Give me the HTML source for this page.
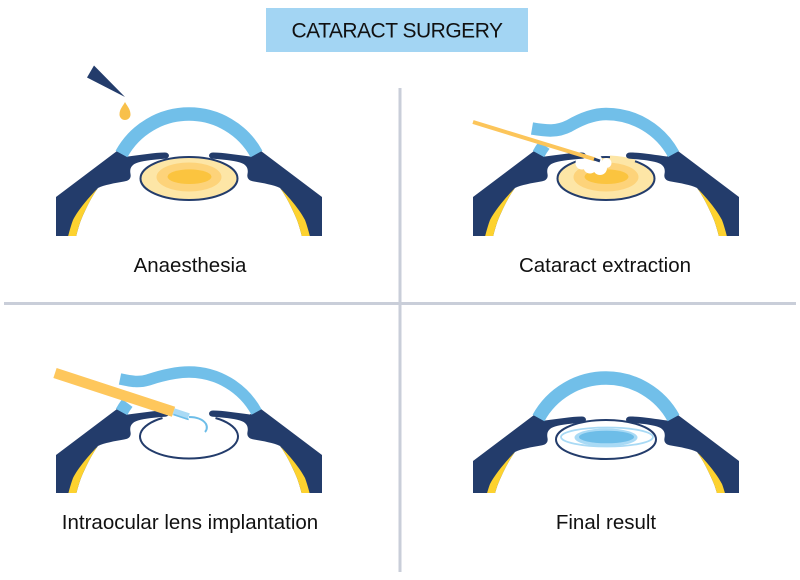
<!DOCTYPE html>
<html>
<head>
<meta charset="utf-8">
<style>
  html, body { margin: 0; padding: 0; background: #ffffff; }
  body { width: 800px; height: 580px; overflow: hidden; }
  svg { display: block; }
  text { font-family: "Liberation Sans", Arial, sans-serif; fill: #111; }
</style>
</head>
<body>
<svg width="800" height="580" viewBox="0 0 800 580" xmlns="http://www.w3.org/2000/svg">
  <defs>
    <g id="half">
      <path fill="#233c6b" d="M 56 250 L 56 197 L 119 149.5 L 128 156.5 C 140 155, 155 152.5, 165 152.5 C 170 152.5, 170.5 158.5, 165 158.8 C 155 159.5, 145 160.5, 138 162.5 C 131 164.5, 129.5 169, 130.5 174 C 131.5 179, 128 181, 124 181.5 C 115 183, 104 185, 98 188 C 92 196, 86 208, 81 220 C 78 228, 75 240, 73 250 Z"/>
      <path fill="#fdd22f" d="M 98 188 C 90 196, 78 210, 73 220 C 70 228, 67 240, 65 250 L 73 250 C 75 240, 78 228, 81 220 C 86 208, 92 196, 98 188 Z"/>
    </g>
    <g id="sclera">
      <use href="#half"/>
      <use href="#half" transform="translate(378,0) scale(-1,1)"/>
    </g>
    <clipPath id="c1"><rect x="0" y="0" width="800" height="236"/></clipPath>
    <clipPath id="c3"><rect x="0" y="0" width="800" height="235"/></clipPath>
    <clipPath id="c4"><rect x="0" y="0" width="800" height="229"/></clipPath>
  </defs>

  <!-- Title -->
  <rect x="266" y="8" width="262" height="44" fill="#a3d5f3"/>
  <text x="397" y="37.3" font-size="21" letter-spacing="-0.5" text-anchor="middle">CATARACT SURGERY</text>

  <!-- Dividers -->
  <rect x="398.5" y="88" width="3" height="484" fill="#c9ced9"/>
  <rect x="4" y="302" width="792" height="3" fill="#c9ced9"/>

  <!-- Panel 1: Anaesthesia -->
  <g clip-path="url(#c1)">
    <ellipse cx="189" cy="178.5" rx="48.5" ry="21.5" fill="#fde6a6" stroke="#233c6b" stroke-width="2"/>
    <ellipse cx="189" cy="177" rx="32.5" ry="14.5" fill="#fdd37a"/>
    <ellipse cx="189.5" cy="176.7" rx="22" ry="7.3" fill="#fbc43f"/>
    <use href="#sclera"/>
    <path d="M 121.5 154 A 77 77 0 0 1 256.5 154" fill="none" stroke="#71bfe9" stroke-width="13.5"/>
  </g>
  <polygon points="94,65.5 87,77.5 125,97" fill="#233c6b"/>
  <path d="M125 102 C 127 106, 130.5 109, 130.5 114.5 A 5.5 5.5 0 0 1 119.5 114.5 C 119.5 109, 123 106, 125 102 Z" fill="#f8c04a"/>
  <text x="190" y="272" font-size="20.5" text-anchor="middle">Anaesthesia</text>

  <!-- Panel 2: Cataract extraction -->
  <g transform="translate(417,0)">
    <g clip-path="url(#c1)">
      <ellipse cx="189" cy="178.5" rx="48.5" ry="21.5" fill="#fde6a6" stroke="#233c6b" stroke-width="2"/>
      <ellipse cx="189" cy="177" rx="32.5" ry="14.5" fill="#fdd37a"/>
      <ellipse cx="189.5" cy="176.7" rx="22" ry="7.3" fill="#fbc43f"/>
      <path d="M 193 157.1 A 48.5 21.5 0 0 1 218 161.3" fill="none" stroke="#fde6a6" stroke-width="3.2"/>
      <g fill="#ffffff">
        <circle cx="165" cy="163" r="6.5"/>
        <circle cx="173" cy="167" r="6.5"/>
        <circle cx="183" cy="168" r="7"/>
        <circle cx="189.5" cy="163" r="5"/>
        <circle cx="179" cy="160" r="6"/>
        <circle cx="171" cy="158.5" r="5"/>
      </g>
      <use href="#sclera"/>
      <path d="M 121.5 154 A 77 77 0 0 1 127.3 145" fill="none" stroke="#71bfe9" stroke-width="13"/>
      <path d="M 115 128.5 C 130 131, 140 132, 152 126 C 164 119, 176 114, 189 114 A 77 77 0 0 1 256.5 154" fill="none" stroke="#71bfe9" stroke-width="12.5"/>
    </g>
  </g>
  <line x1="473" y1="122" x2="595" y2="159.4" stroke="#fcc55a" stroke-width="4"/>
  <line x1="594" y1="159" x2="600" y2="161" stroke="#233c6b" stroke-width="3"/>
  <text x="605" y="272" font-size="20.5" text-anchor="middle">Cataract extraction</text>

  <!-- Panel 3: Intraocular lens implantation -->
  <g transform="translate(0,258)">
    <g clip-path="url(#c3)">
      <path d="M 162.5 160 A 49 22 0 1 0 215.5 160" fill="none" stroke="#233c6b" stroke-width="2"/>
      <use href="#sclera"/>
      <path d="M 121.5 154 A 77 77 0 0 1 127.3 145" fill="none" stroke="#71bfe9" stroke-width="13"/>
      <path d="M 120 121 C 130 123, 138 125, 148 122 C 160 118, 174 114, 189 114 A 77 77 0 0 1 256.5 154" fill="none" stroke="#71bfe9" stroke-width="11.5"/>
    </g>
  </g>
  <line x1="55" y1="373" x2="173.5" y2="411.7" stroke="#fec75c" stroke-width="10.5"/>
  <polygon points="174.6,408.4 172.4,415 187.6,420 189.8,413.4" fill="#a9daf5"/>
  <line x1="173.5" y1="414.5" x2="188.7" y2="419.5" stroke="#6dbde8" stroke-width="1.5"/>
  <path d="M 189 417 C 196 417, 203 419, 206 424 C 208 428, 206 431, 205 432" fill="none" stroke="#6dbde8" stroke-width="2"/>
  <text x="190" y="529" font-size="20.5" text-anchor="middle">Intraocular lens implantation</text>

  <!-- Panel 4: Final result -->
  <ellipse cx="606" cy="439.5" rx="50" ry="19.5" fill="#ffffff" stroke="#233c6b" stroke-width="2"/>
  <ellipse cx="607" cy="437" rx="46" ry="9.5" fill="none" stroke="#a9daf5" stroke-width="1.8"/>
  <ellipse cx="606" cy="437.5" rx="31.5" ry="9" fill="#a9daf5"/>
  <ellipse cx="606.5" cy="437" rx="27.5" ry="6.3" fill="#6dbde8"/>
  <g transform="translate(417,264)">
    <g clip-path="url(#c4)">
      <use href="#sclera"/>
      <path d="M 121.5 154 A 77 77 0 0 1 256.5 154" fill="none" stroke="#71bfe9" stroke-width="13.5"/>
    </g>
  </g>
  <text x="606" y="529" font-size="20.5" text-anchor="middle">Final result</text>
</svg>
</body>
</html>
